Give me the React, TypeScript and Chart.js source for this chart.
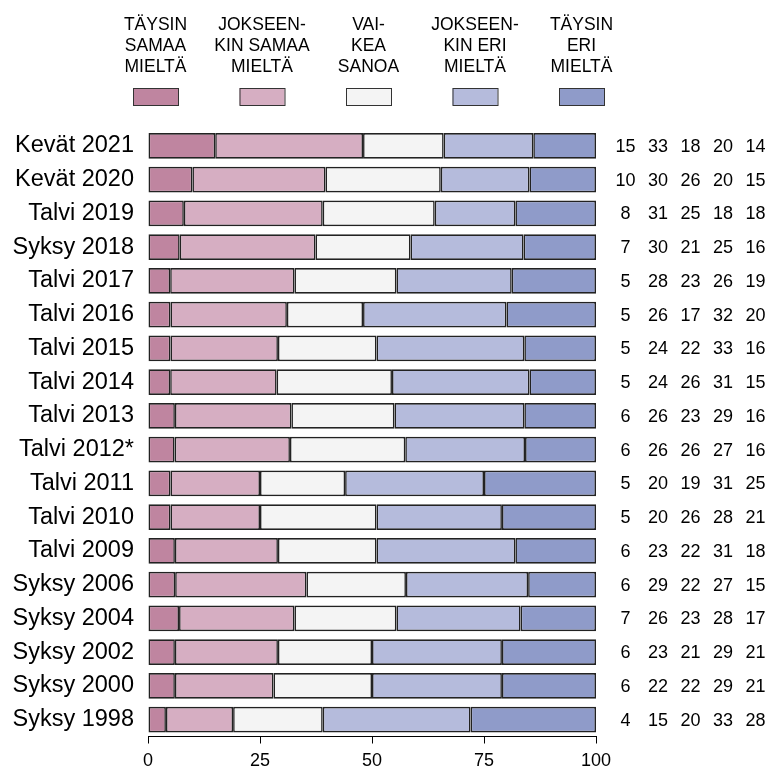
import { useEffect, useRef } from "react";
import { Chart, registerables } from "chart.js";
Chart.register(...registerables);

const categories = [
  "Kevät 2021", "Kevät 2020", "Talvi 2019", "Syksy 2018", "Talvi 2017", "Talvi 2016",
  "Talvi 2015", "Talvi 2014", "Talvi 2013", "Talvi 2012*", "Talvi 2011", "Talvi 2010",
  "Talvi 2009", "Syksy 2006", "Syksy 2004", "Syksy 2002", "Syksy 2000", "Syksy 1998",
];
const taysinSamaa = [15, 10, 8, 7, 5, 5, 5, 5, 6, 6, 5, 5, 6, 6, 7, 6, 6, 4];
const jokseenkinSamaa = [33, 30, 31, 30, 28, 26, 24, 24, 26, 26, 20, 20, 23, 29, 26, 23, 22, 15];
const vaikeaSanoa = [18, 26, 25, 21, 23, 17, 22, 26, 23, 26, 19, 26, 22, 22, 23, 21, 22, 20];
const jokseenkinEri = [20, 20, 18, 25, 26, 32, 33, 31, 29, 27, 31, 28, 31, 27, 28, 29, 29, 33];
const taysinEri = [14, 15, 18, 16, 19, 20, 16, 15, 16, 16, 25, 21, 18, 15, 17, 21, 21, 28];

const seriesLabels = [
  ["TÄYSIN", "SAMAA", "MIELTÄ"],
  ["JOKSEEN-", "KIN SAMAA", "MIELTÄ"],
  ["VAI-", "KEA", "SANOA"],
  ["JOKSEEN-", "KIN ERI", "MIELTÄ"],
  ["TÄYSIN", "ERI", "MIELTÄ"],
];
const seriesColors = ["#BF85A0", "#D6AEC2", "#F4F4F4", "#B5BBDC", "#8F9BC9"];
const xTicks = [0, 25, 50, 75, 100];

const FONT = "'Liberation Sans', Arial, Helvetica, sans-serif";

export default function App() {
  const ref = useRef<HTMLCanvasElement | null>(null);
  useEffect(() => {
    const canvas = ref.current;
    if (!canvas) return;
    const series = [taysinSamaa, jokseenkinSamaa, vaikeaSanoa, jokseenkinEri, taysinEri];
    const totals = categories.map((_, i) => series.reduce((s, arr) => s + arr[i], 0));

    const overlay = {
      id: "overlay",
      afterDraw(chart: any) {
        const ctx = chart.ctx as CanvasRenderingContext2D;
        ctx.save();
        // legend
        ctx.font = `17.5px ${FONT}`;
        ctx.textAlign = "center";
        ctx.textBaseline = "alphabetic";
        seriesLabels.forEach((lines, j) => {
          const cx = 155.5 + j * 106.5;
          lines.forEach((t, k) => {
            ctx.fillStyle = "#000";
            ctx.fillText(t, cx, 30 + k * 21);
          });
          ctx.fillStyle = seriesColors[j];
          ctx.fillRect(cx - 22.5, 88, 45, 17);
          ctx.strokeStyle = "#333";
          ctx.lineWidth = 1;
          ctx.strokeRect(cx - 22.5 + 0.5, 88.5, 45, 17);
        });
        // values column
        const yScale = chart.scales.y;
        ctx.fillStyle = "#000";
        ctx.font = `18px ${FONT}`;
        ctx.textBaseline = "middle";
        categories.forEach((_, i) => {
          const y = yScale.getPixelForValue(i);
          series.forEach((arr, j) => {
            ctx.fillText(String(arr[i]), 625.5 + j * 32.5, y + 1);
          });
        });
        ctx.restore();
      },
    };

    const chart = new Chart(canvas, {
      type: "bar",
      data: {
        labels: categories,
        datasets: series.map((arr, j) => ({
          label: seriesLabels[j].join(" "),
          data: arr.map((v, i) => (v / totals[i]) * 100),
          backgroundColor: seriesColors[j],
          borderColor: "#222",
          borderWidth: 1.6,
          borderSkipped: false,
          barPercentage: 0.76,
          categoryPercentage: 1.0,
        })),
      },
      options: {
        indexAxis: "y",
        animation: false,
        responsive: false,
        devicePixelRatio: 1,
        layout: { padding: { top: 129, right: 176, left: 0, bottom: 0 } },
        plugins: { legend: { display: false }, tooltip: { enabled: false } },
        scales: {
          y: {
            stacked: true,
            afterFit: (s: any) => { s.width = 148; },
            grid: { display: false, drawTicks: false, tickLength: 0 },
            border: { display: false },
            ticks: { color: "#000", font: { size: 23.5, family: FONT }, padding: 14 },
          },
          x: {
            stacked: true,
            min: 0,
            max: 100,
            afterFit: (s: any) => { s.height = 32.5; },
            afterBuildTicks: (s: any) => { s.ticks = xTicks.map((v) => ({ value: v })); },
            grid: { drawOnChartArea: false, drawTicks: true, tickLength: 7, color: "#000", lineWidth: 1 },
            border: { display: true, color: "#000", width: 1 },
            ticks: { color: "#000", font: { size: 18, family: FONT }, padding: 7, maxRotation: 0 },
          },
        },
      },
      plugins: [overlay],
    });
    return () => chart.destroy();
  }, []);
  return (
    <div style={{ position: "absolute", left: 0, top: 0, width: 772, height: 769 }}>
      <canvas ref={ref} width={772} height={769} style={{ width: 772, height: 769 }} />
    </div>
  );
}
